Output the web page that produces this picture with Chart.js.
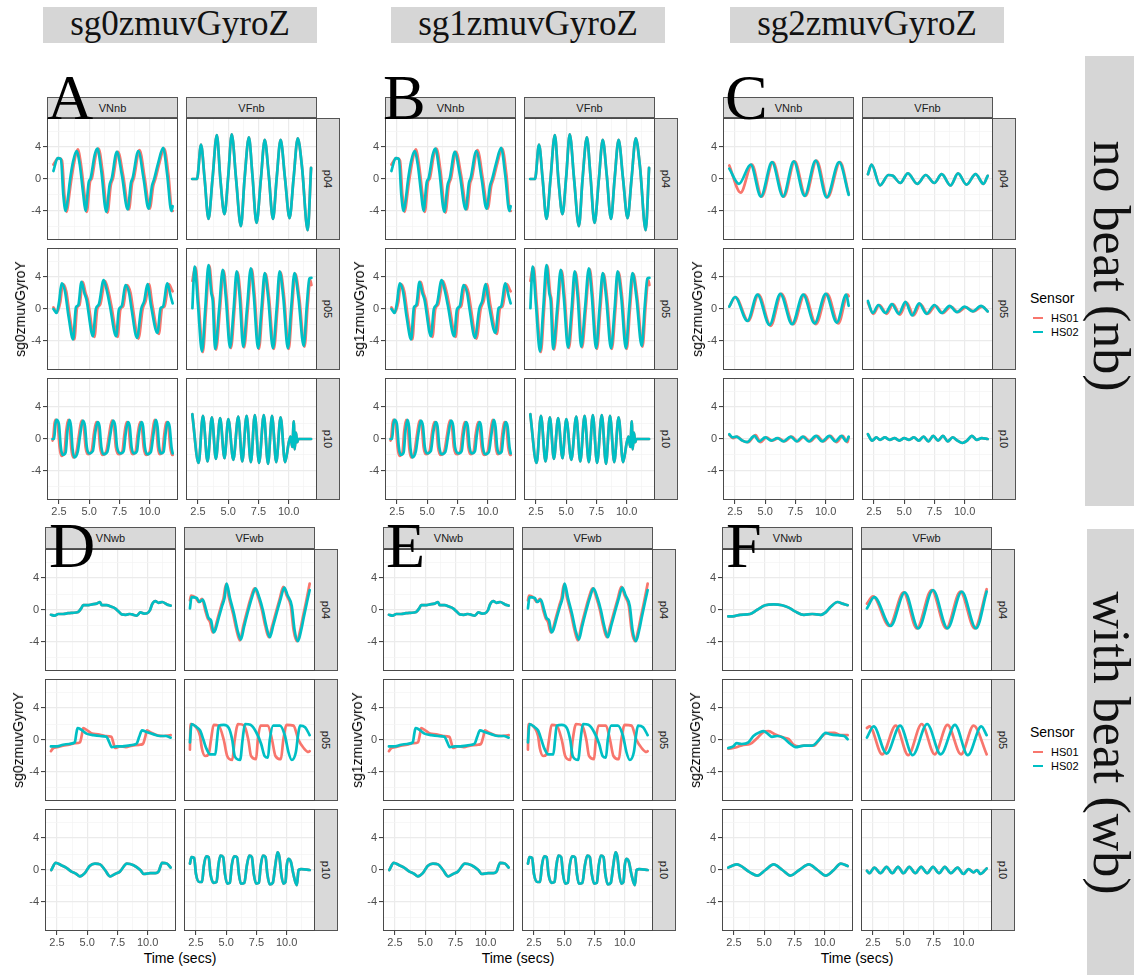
<!DOCTYPE html>
<html>
<head>
<meta charset="utf-8">
<script src="https://cdn.jsdelivr.net/npm/chart.js@4.4.1/dist/chart.umd.min.js"></script>
<style>
  body { margin: 0; background: #fff; }
  #fig { position: relative; width: 1134px; height: 975px; overflow: hidden; font-family: "Liberation Sans", Arial, sans-serif; }
  .strip { position: absolute; box-sizing: border-box; background: #d9d9d9; border: 1px solid #555; color: #1a1a1a; font-size: 11px; display: flex; align-items: center; justify-content: center; }
  .strip.side span { transform: rotate(90deg); white-space: nowrap; }
  .coltitle { position: absolute; background: #d6d6d6; font-family: "Liberation Serif", serif; font-size: 35px; line-height: 33px; text-align: center; color: #111; }
  .letter { position: absolute; font-family: "Liberation Serif", serif; font-size: 64px; line-height: 64px; color: #000; z-index: 5; }
  .rot { position: absolute; white-space: nowrap; transform: translate(-50%, -50%) rotate(-90deg); }
  .ytitle { font-size: 14px; color: #000; }
  .xtitle { position: absolute; font-size: 14px; transform: translate(-50%, -50%); white-space: nowrap; }
  .rowbox { position: absolute; background: #d6d6d6; }
  .rowlabel { position: absolute; white-space: nowrap; font-family: "Liberation Serif", serif; font-size: 52px; color: #111; transform: translate(-50%, -50%) rotate(90deg); }
  .legend { position: absolute; font-size: 11px; color: #000; }
  .legend .head { font-size: 14px; margin-bottom: 5px; }
  .legend .key { display: flex; align-items: center; height: 14px; }
  .legend .key i { display: inline-block; width: 10px; height: 2px; margin: 0 8px 0 3px; }
</style>
</head>
<body>
<div id="fig"></div>
<script>
// Gyro traces, pairs of [time (secs), value]
const sg0_VNnb_p04_HS01 = [[2.04,1.8],[2.45,2.6],[2.75,2.3],[2.95,-2.0],[3.15,-4.1],[3.35,-2.0],[3.5,-0.3],[3.77,2.2],[4.05,3.7],[4.32,1.8],[4.6,-1.8],[4.8,-4.1],[5.06,-0.4],[5.22,0.1],[5.55,3.0],[5.77,3.8],[6.1,1.0],[6.51,-4.2],[6.78,-0.8],[6.97,0.1],[7.38,3.4],[7.8,0.5],[8.28,-3.8],[8.55,-0.5],[8.69,0.1],[9.16,3.6],[9.6,0.0],[10.0,-3.7],[10.3,-0.8],[10.47,0.0],[10.8,2.0],[11.2,3.8],[11.55,0.5],[11.85,-4.0],[11.9,-4.0]];
const sg0_VNnb_p04_HS02 = [[2.04,1.0],[2.39,2.6],[2.66,2.5],[2.86,-2.0],[3.05,-4.0],[3.27,-2.0],[3.40,-0.3],[3.67,2.2],[3.95,3.5],[4.22,1.8],[4.5,-1.8],[4.69,-4.0],[4.96,-0.4],[5.12,0.1],[5.45,3.0],[5.67,3.8],[6.0,1.0],[6.41,-4.1],[6.68,-0.8],[6.87,0.1],[7.28,3.4],[7.7,0.5],[8.18,-3.8],[8.45,-0.5],[8.59,0.1],[9.06,3.5],[9.5,0.0],[9.9,-3.7],[10.2,-0.8],[10.37,0.0],[10.7,2.0],[11.11,3.9],[11.45,0.5],[11.79,-4.0],[11.9,-3.4]];
const sg0_VNnb_p05_HS01 = [[2.04,0.2],[2.35,-0.4],[2.6,0.8],[2.82,3.1],[3.1,2.2],[3.4,-1.0],[3.77,-3.8],[4.0,0.2],[4.2,0.5],[4.46,3.4],[4.7,2.0],[4.87,1.2],[5.43,-3.5],[5.67,0.0],[5.92,0.6],[6.31,3.5],[6.62,2.0],[6.82,0.5],[7.35,-3.5],[7.57,-0.1],[7.82,0.4],[8.11,3.0],[8.42,2.0],[8.62,0.0],[9.07,-3.7],[9.42,0.0],[9.67,1.0],[9.94,3.1],[10.22,0.5],[10.76,-3.1],[11.02,0.1],[11.22,0.3],[11.58,3.1],[11.8,2.5],[11.9,2.2]];
const sg0_VNnb_p05_HS02 = [[2.04,0.0],[2.3,-0.5],[2.5,0.8],[2.72,3.2],[3.0,2.2],[3.3,-1.0],[3.67,-3.8],[3.9,0.2],[4.1,0.5],[4.36,3.4],[4.6,2.0],[4.77,1.2],[5.31,-3.4],[5.55,0.0],[5.8,0.6],[6.19,3.6],[6.5,2.0],[6.7,0.5],[7.23,-3.4],[7.45,-0.1],[7.7,0.4],[7.99,3.0],[8.3,2.0],[8.5,0.0],[8.95,-3.6],[9.3,0.0],[9.55,1.0],[9.82,3.1],[10.1,0.5],[10.64,-3.0],[10.9,0.1],[11.1,0.3],[11.46,3.2],[11.75,1.5],[11.9,0.7]];
const sg0_VNnb_p10_HS01 = [[1.97,-0.2],[2.05,0.5],[2.12,1.8],[2.22,2.4],[2.4,1.8],[2.55,-1.0],[2.7,-2.1],[2.95,-1.7],[3.1,1.0],[3.26,2.4],[3.4,1.5],[3.52,-1.2],[3.68,-2.3],[3.95,-1.6],[4.15,0.5],[4.37,2.3],[4.55,1.6],[4.7,-1.0],[4.9,-1.9],[5.2,-1.5],[5.4,0.8],[5.59,2.1],[5.75,1.6],[5.9,-1.0],[6.09,-2.0],[6.4,-1.6],[6.65,0.6],[6.87,2.3],[7.05,1.6],[7.2,-1.0],[7.48,-1.9],[7.75,-1.5],[7.9,0.5],[8.09,2.1],[8.25,1.6],[8.4,-1.0],[8.59,-1.9],[8.85,-1.5],[9.0,0.5],[9.21,2.1],[9.35,1.6],[9.5,-1.0],[9.7,-2.0],[10.0,-1.6],[10.2,0.5],[10.4,2.4],[10.55,1.5],[10.68,-1.0],[10.82,-1.9],[11.05,-1.6],[11.2,0.5],[11.37,2.1],[11.55,1.5],[11.7,-1.0],[11.85,-2.0],[11.9,-2.0]];
const sg0_VNnb_p10_HS02 = [[1.97,0.0],[2.1,0.0],[2.2,1.8],[2.3,2.4],[2.5,1.8],[2.65,-1.0],[2.8,-2.0],[3.05,-1.7],[3.2,1.0],[3.36,2.4],[3.5,1.5],[3.62,-1.2],[3.78,-2.3],[4.05,-1.6],[4.25,0.5],[4.47,2.3],[4.65,1.6],[4.8,-1.0],[5.0,-1.8],[5.3,-1.5],[5.5,0.8],[5.69,2.1],[5.85,1.6],[6.0,-1.0],[6.19,-1.9],[6.5,-1.6],[6.75,0.6],[6.97,2.3],[7.15,1.6],[7.3,-1.0],[7.58,-1.8],[7.85,-1.5],[8.0,0.5],[8.19,2.1],[8.35,1.6],[8.5,-1.0],[8.69,-1.8],[8.95,-1.5],[9.1,0.5],[9.31,2.1],[9.45,1.6],[9.6,-1.0],[9.8,-1.9],[10.1,-1.6],[10.3,0.5],[10.5,2.4],[10.65,1.5],[10.78,-1.0],[10.92,-1.8],[11.15,-1.6],[11.3,0.5],[11.47,2.1],[11.65,1.5],[11.8,-1.0],[11.9,-1.8]];
const sg0_VFnb_p04_HS02 = [[2.02,0.0],[2.42,0.0],[2.75,4.3],[3.05,0.0],[3.37,-5.0],[3.7,0.0],[4.06,5.5],[4.35,0.0],[4.69,-4.4],[5.0,0.3],[5.29,5.6],[5.65,0.0],[6.05,-5.9],[6.35,0.0],[6.71,5.2],[7.0,0.5],[7.34,-5.5],[7.7,0.0],[8.02,4.9],[8.35,0.5],[8.7,-5.0],[9.0,0.0],[9.33,4.9],[9.7,0.0],[10.07,-4.9],[10.4,0.0],[10.75,5.1],[11.1,1.5],[11.57,-6.4],[11.85,1.4]];
const sg0_VFnb_p05_HS01 = [[2.04,3.5],[2.15,4.5],[2.3,5.2],[2.57,0.5],[2.9,-5.4],[3.17,0.0],[3.44,5.4],[3.67,2.0],[3.79,1.0],[3.99,-5.1],[4.32,0.0],[4.62,4.8],[4.87,1.5],[5.22,-4.9],[5.52,0.0],[5.77,4.6],[6.02,1.5],[6.31,-4.8],[6.62,0.0],[6.94,5.0],[7.17,2.0],[7.54,-5.0],[7.82,0.0],[8.09,4.4],[8.37,1.5],[8.77,-5.0],[9.07,0.0],[9.32,4.6],[9.62,1.5],[10.0,-5.0],[10.27,0.0],[10.55,4.4],[10.87,1.5],[11.31,-4.7],[11.57,0.5],[11.78,3.6],[11.88,3.0]];
const sg0_VFnb_p05_HS02 = [[2.04,0.1],[2.12,3.0],[2.23,5.3],[2.5,0.5],[2.83,-5.3],[3.1,0.0],[3.37,5.5],[3.6,2.0],[3.72,1.0],[3.92,-5.0],[4.25,0.0],[4.55,4.9],[4.8,1.5],[5.15,-4.8],[5.45,0.0],[5.7,4.7],[5.95,1.5],[6.24,-4.7],[6.55,0.0],[6.87,5.1],[7.1,2.0],[7.47,-4.9],[7.75,0.0],[8.02,4.5],[8.3,1.5],[8.7,-4.9],[9.0,0.0],[9.25,4.7],[9.55,1.5],[9.93,-4.9],[10.2,0.0],[10.48,4.5],[10.8,1.5],[11.24,-4.6],[11.5,0.5],[11.71,3.8],[11.88,3.9]];
const sg0_VFnb_p10_HS02 = [[2.03,3.1],[2.55,-3.0],[2.91,2.9],[3.29,-2.8],[3.65,2.7],[3.98,-2.5],[4.33,2.6],[4.69,-2.4],[5.01,2.5],[5.42,-2.6],[5.83,2.8],[6.16,-2.8],[6.52,2.9],[6.87,-2.9],[7.2,3.0],[7.55,-3.0],[7.94,3.0],[8.29,-3.1],[8.62,2.9],[8.97,-2.9],[9.33,2.7],[9.7,-2.9],[10.0,-0.5],[10.15,0.3],[10.3,-1.0],[10.42,2.2],[10.5,-1.3],[10.6,0.8],[10.7,-0.4],[10.8,0.0],[11.85,0.0]];

const sg2_VNnb_p04_HS01 = [[2.03,1.7],[2.97,-1.7],[3.9,1.8],[4.72,-2.2],[5.64,2.1],[6.55,-2.2],[7.44,2.2],[8.33,-2.1],[9.25,2.3],[10.16,-2.3],[11.19,2.1],[11.9,-1.8]];
const sg2_VNnb_p04_HS02 = [[2.03,1.3],[2.83,-0.6],[3.8,1.8],[4.64,-2.2],[5.56,2.1],[6.47,-2.2],[7.36,2.2],[8.25,-2.1],[9.17,2.3],[10.08,-2.3],[11.11,2.1],[11.9,-2.0]];
const sg2_VNnb_p05_HS01 = [[2.03,0.3],[2.55,1.5],[3.6,-1.5],[4.45,1.8],[5.45,-2.1],[6.35,1.9],[7.32,-1.9],[8.25,1.8],[9.2,-1.9],[10.12,1.9],[11.05,-1.8],[11.82,1.8],[11.9,1.6]];
const sg2_VNnb_p05_HS02 = [[2.03,0.3],[2.5,1.5],[3.53,-1.5],[4.36,1.8],[5.36,-2.0],[6.25,1.9],[7.22,-1.9],[8.14,1.8],[9.08,-1.8],[10.0,1.9],[10.92,-1.7],[11.7,1.8],[11.9,0.4]];
const sg2_VNnb_p10_HS01 = [[2.03,0.5],[2.35,0.1],[2.7,0.3],[3.1,-0.2],[3.6,-0.4],[4.2,0.5],[4.6,-0.4],[5.1,0.2],[5.6,-0.2],[6.1,0.1],[6.6,-0.3],[7.2,0.3],[7.7,-0.3],[8.2,0.3],[8.7,-0.3],[9.3,0.4],[9.8,-0.3],[10.4,0.4],[10.9,-0.4],[11.4,0.4],[11.8,-0.4],[11.9,0.2]];
const sg2_VNnb_p10_HS02 = [[2.03,0.6],[2.3,0.2],[2.6,0.3],[3.0,-0.1],[3.5,-0.4],[4.1,0.4],[4.5,-0.3],[5.0,0.2],[5.5,-0.2],[6.0,0.1],[6.5,-0.3],[7.1,0.3],[7.6,-0.3],[8.1,0.3],[8.6,-0.3],[9.2,0.4],[9.7,-0.3],[10.3,0.4],[10.8,-0.3],[11.3,0.4],[11.7,-0.3],[11.9,0.3]];
const sg2_VFnb_p04_HS02 = [[2.0,0.6],[2.3,1.8],[3.0,-0.8],[3.7,0.5],[4.06,0.4],[4.68,-0.5],[5.3,0.7],[6.08,-0.6],[6.78,0.5],[7.49,-0.5],[8.1,0.6],[8.83,-0.8],[9.45,0.7],[10.15,-0.7],[10.9,0.6],[11.55,-0.6],[11.9,0.4]];
const sg2_VFnb_p05_HS01 = [[2.0,0.8],[2.45,-0.6],[2.95,0.5],[3.55,-0.6],[4.08,0.6],[4.65,-0.7],[5.2,0.8],[5.78,-0.8],[6.33,0.6],[6.95,-0.6],[7.59,0.4],[8.2,-0.5],[8.85,0.3],[9.45,-0.4],[10.1,0.2],[10.75,-0.3],[11.45,0.3],[11.9,-0.3]];
const sg2_VFnb_p05_HS02 = [[2.0,1.0],[2.4,-0.5],[2.86,0.5],[3.45,-0.5],[3.98,0.6],[4.55,-0.6],[5.1,0.9],[5.65,-0.8],[6.23,0.7],[6.85,-0.6],[7.49,0.5],[8.1,-0.5],[8.75,0.4],[9.35,-0.4],[10.0,0.3],[10.65,-0.3],[11.35,0.4],[11.9,-0.3]];
const sg2_VFnb_p10_HS02 = [[2.0,0.6],[2.35,-0.2],[2.7,0.2],[3.0,-0.1],[3.4,0.2],[3.8,-0.1],[4.2,0.1],[4.6,-0.2],[5.0,0.1],[5.4,-0.1],[5.8,0.2],[6.2,-0.2],[6.6,0.3],[7.0,-0.3],[7.4,0.4],[7.8,-0.2],[8.2,0.4],[8.6,-0.3],[9.0,0.2],[9.4,-0.2],[9.8,-0.5],[10.2,-0.2],[10.6,0.4],[11.0,-0.1],[11.4,0.1],[11.9,0.0]];

const sg0_VNwb_p04_HS02 = [[2.0,-0.6],[2.3,-0.7],[2.6,-0.5],[3.0,-0.5],[3.4,-0.4],[3.8,-0.35],[4.25,-0.25],[4.5,0.2],[4.67,0.6],[5.0,0.6],[5.4,0.7],[5.78,0.8],[6.06,1.0],[6.2,0.6],[6.6,0.6],[7.0,0.4],[7.3,0.2],[7.6,-0.2],[7.86,-0.55],[8.2,-0.6],[8.5,-0.5],[8.7,-0.55],[9.1,-0.7],[9.4,-0.3],[9.7,-0.45],[9.95,-0.4],[10.2,0.0],[10.36,0.7],[10.64,1.1],[10.9,0.9],[11.2,1.0],[11.6,0.7],[11.9,0.55]];
const sg0_VNwb_p05_HS01 = [[2.0,-1.4],[2.2,-1.0],[2.5,-0.9],[3.0,-0.7],[3.5,-0.6],[4.0,-0.4],[4.4,-0.3],[4.55,0.6],[4.67,1.5],[5.0,1.2],[5.4,0.8],[5.9,0.7],[6.5,0.5],[7.0,0.4],[7.15,-0.3],[7.3,-1.0],[7.7,-0.8],[8.2,-0.9],[8.7,-0.7],[9.3,-0.6],[9.6,-0.5],[9.8,0.4],[9.94,1.2],[10.3,0.9],[10.8,0.6],[11.3,0.5],[11.9,0.6]];
const sg0_VNwb_p05_HS02 = [[2.0,-0.8],[2.5,-0.8],[3.0,-0.6],[3.5,-0.5],[3.97,-0.3],[4.1,0.8],[4.2,1.5],[4.5,1.3],[4.94,0.8],[5.5,0.6],[6.06,0.5],[6.6,0.4],[6.8,-0.2],[7.03,-0.9],[7.44,-0.8],[7.9,-0.8],[8.4,-0.7],[8.83,-0.6],[9.11,-0.4],[9.3,0.4],[9.53,1.2],[9.9,1.0],[10.5,0.7],[11.0,0.5],[11.5,0.5],[11.9,0.3]];
const sg0_VNwb_p10_HS02 = [[2.03,0.0],[2.4,0.9],[2.85,0.6],[3.25,0.3],[3.7,-0.2],[4.1,-0.5],[4.39,-0.8],[4.8,-0.4],[5.2,0.5],[5.64,0.8],[6.06,0.7],[6.47,0.0],[6.9,-0.8],[7.3,-0.5],[7.7,-0.2],[8.28,0.8],[8.83,0.6],[9.39,0.0],[9.67,-0.5],[10.2,-0.4],[10.64,-0.4],[10.9,-0.2],[11.19,0.9],[11.6,0.8],[11.9,0.3]];
const sg0_VFwb_p04_HS01 = [[2.0,1.2],[2.1,1.8],[2.5,1.5],[2.72,1.0],[3.0,1.4],[3.26,0.0],[3.46,-1.0],[3.66,-1.5],[3.88,-2.8],[4.02,-2.6],[4.3,-1.0],[4.58,0.5],[4.78,1.5],[4.98,3.2],[5.23,1.5],[5.57,-0.5],[5.85,-2.5],[6.13,-3.8],[6.41,-2.0],[6.75,0.0],[7.03,1.5],[7.34,2.7],[7.67,1.5],[7.95,0.0],[8.23,-2.0],[8.52,-3.4],[8.8,-2.0],[9.16,0.0],[9.44,1.5],[9.72,2.9],[10.0,1.8],[10.34,0.5],[10.57,-2.5],[10.85,-3.9],[11.12,-2.5],[11.32,-1.0],[11.6,1.0],[11.9,3.3]];
const sg0_VFwb_p04_HS02 = [[2.0,0.2],[2.13,1.6],[2.56,1.5],[2.78,1.0],[3.06,1.3],[3.34,0.0],[3.54,-1.0],[3.74,-1.3],[3.96,-2.8],[4.1,-2.5],[4.38,-1.0],[4.66,0.5],[4.86,1.5],[5.03,3.3],[5.31,1.5],[5.65,-0.5],[5.93,-2.5],[6.21,-3.7],[6.49,-2.0],[6.83,0.0],[7.11,1.5],[7.42,2.7],[7.75,1.5],[8.03,0.0],[8.31,-2.0],[8.6,-3.4],[8.88,-2.0],[9.24,0.0],[9.52,1.5],[9.8,2.8],[10.08,1.8],[10.42,0.5],[10.65,-2.5],[10.93,-3.9],[11.2,-2.5],[11.4,-1.0],[11.68,1.0],[11.9,2.5]];
const sg0_VFwb_p05_HS01 = [[2.0,-1.2],[2.05,2.0],[2.56,1.5],[2.84,0.5],[2.98,-1.0],[3.26,-2.0],[3.54,-1.8],[3.74,0.0],[3.96,1.9],[4.38,1.8],[4.8,0.0],[5.08,-2.0],[5.5,-2.5],[5.7,0.0],[5.98,2.0],[6.49,1.8],[6.83,0.0],[7.05,-2.0],[7.47,-2.4],[7.61,0.0],[7.84,1.8],[8.45,1.8],[8.79,0.0],[9.07,-2.0],[9.52,-2.4],[9.72,0.0],[10.0,1.9],[10.56,1.8],[10.98,0.0],[11.4,-1.0],[11.8,-1.5],[11.9,-1.4]];
const sg0_VFwb_p05_HS02 = [[2.0,-0.3],[2.13,2.0],[2.56,1.6],[2.84,1.2],[3.12,0.0],[3.34,-1.0],[3.68,-1.8],[4.1,-1.8],[4.24,0.0],[4.38,1.8],[4.8,1.9],[5.22,1.5],[5.5,0.0],[5.7,-2.0],[6.15,-2.5],[6.35,0.0],[6.55,2.0],[7.0,1.9],[7.47,1.0],[7.89,-0.5],[8.17,-2.0],[8.45,-2.2],[8.6,0.0],[8.88,1.8],[9.44,1.8],[9.86,0.5],[10.14,-1.5],[10.42,-2.5],[10.76,-1.5],[10.93,0.5],[11.1,1.8],[11.52,1.6],[11.9,0.6]];
const sg0_VFwb_p10_HS02 = [[2.0,0.8],[2.13,1.6],[2.35,1.5],[2.5,-0.5],[2.78,-1.5],[3.0,-1.5],[3.15,0.5],[3.34,1.7],[3.55,1.6],[3.7,-0.5],[3.96,-1.6],[4.2,-1.5],[4.35,0.5],[4.52,1.8],[4.75,1.6],[4.9,-0.5],[5.08,-1.7],[5.3,-1.6],[5.45,0.5],[5.65,1.7],[5.9,1.6],[6.05,-0.5],[6.21,-1.7],[6.5,-1.6],[6.7,0.5],[6.91,1.8],[7.12,1.6],[7.28,-0.5],[7.47,-1.7],[7.7,-1.6],[7.85,0.5],[8.03,1.8],[8.25,1.6],[8.4,-0.5],[8.6,-1.8],[8.85,-1.6],[9.05,0.5],[9.24,2.2],[9.4,1.6],[9.55,-0.5],[9.72,-1.7],[9.9,-1.5],[10.0,0.5],[10.14,1.4],[10.35,1.0],[10.55,-0.5],[10.84,-1.9],[10.98,0.0],[11.2,0.1],[11.9,0.0]];

const sg2_VNwb_p04_HS02 = [[2.03,-0.8],[2.4,-0.8],[3.0,-0.6],[3.83,-0.5],[4.39,0.0],[5.08,0.6],[5.78,0.7],[6.47,0.6],[7.03,0.3],[7.58,-0.2],[8.28,-0.6],[8.97,-0.5],[9.67,-0.6],[10.08,-0.3],[10.5,0.4],[11.06,1.0],[11.47,0.8],[11.9,0.6]];
const sg2_VNwb_p05_HS01 = [[2.03,-1.1],[2.72,-0.9],[3.28,-0.6],[3.83,-0.5],[4.39,0.2],[4.94,1.0],[5.36,1.1],[5.92,0.7],[6.61,0.3],[7.03,0.1],[7.44,-0.6],[7.86,-0.8],[8.28,-0.7],[9.11,-0.7],[9.53,0.0],[9.94,0.7],[10.36,0.9],[10.78,0.9],[11.33,0.6],[11.9,0.6]];
const sg2_VNwb_p05_HS02 = [[2.03,-1.0],[2.44,-0.8],[2.72,-0.4],[3.14,-0.5],[3.69,-0.3],[4.11,0.5],[4.67,1.0],[4.94,1.1],[5.28,0.8],[5.64,0.4],[6.06,0.5],[6.56,0.3],[7.17,-0.5],[7.58,-0.9],[8.28,-0.7],[8.97,-0.7],[9.53,0.0],[10.08,0.9],[10.5,0.7],[11.06,0.6],[11.61,0.5],[11.9,0.1]];
const sg2_VNwb_p10_HS02 = [[2.03,0.3],[2.72,0.7],[3.83,-0.3],[4.44,-0.7],[5.1,0.0],[5.78,0.7],[6.5,0.0],[7.17,-0.7],[7.9,0.0],[8.69,0.7],[9.4,0.0],[10.08,-0.7],[10.75,0.0],[11.33,0.8],[11.9,0.5]];
const sg2_VFwb_p04_HS01 = [[2.0,0.8],[2.5,1.7],[3.85,-2.0],[5.02,2.2],[6.13,-2.3],[7.34,2.5],[8.55,-2.3],[9.72,2.3],[10.9,-2.3],[11.9,2.6]];
const sg2_VFwb_p04_HS02 = [[2.0,0.2],[2.61,1.6],[3.96,-2.0],[5.13,2.2],[6.25,-2.3],[7.46,2.5],[8.66,-2.3],[9.84,2.3],[11.02,-2.3],[11.9,2.3]];
const sg2_VFwb_p05_HS01 = [[2.0,1.5],[2.22,1.7],[3.26,-1.8],[4.38,1.8],[5.41,-1.9],[6.53,2.0],[7.6,-1.8],[8.66,1.9],[9.78,-1.8],[10.82,1.8],[11.9,-1.8]];
const sg2_VFwb_p05_HS02 = [[2.0,0.3],[2.56,1.7],[3.62,-1.7],[4.74,1.8],[5.78,-1.9],[6.98,2.0],[8.1,-1.8],[9.28,1.9],[10.34,-1.9],[11.46,1.7],[11.9,0.6]];
const sg2_VFwb_p10_HS02 = [[2.0,-0.1],[2.22,-0.4],[2.61,0.3],[3.12,-0.4],[3.62,0.4],[4.1,-0.4],[4.57,0.4],[5.02,-0.4],[5.5,0.4],[6.0,-0.4],[6.48,0.4],[6.98,-0.4],[7.46,0.4],[7.96,-0.4],[8.44,0.4],[8.94,-0.4],[9.5,0.3],[9.98,-0.5],[10.4,0.1],[10.82,-0.3],[11.1,0.0],[11.38,-0.5],[11.9,0.2]];

// axes
const X_MIN = 1.51, X_MAX = 12.34, Y_MIN = -7.63, Y_MAX = 7.63;
const X_GRID = [2.5, 3.75, 5, 6.25, 7.5, 8.75, 10, 11.25];
const X_LABELED = [2.5, 5, 7.5, 10];
const Y_GRID = [-6, -4, -2, 0, 2, 4, 6];
const Y_LABELED = [-4, 0, 4];
const PARTICIPANTS = ['p04', 'p05', 'p10'];
const SENSORS = ['HS01', 'HS02'];
const SENSOR_COLORS = ['#F8766D', '#00BFC4'];

// [column][row] -> [HS01, HS02]; where the two sensors coincide the same trace is drawn for both
const sg0nb = [
  [[sg0_VNnb_p04_HS01, sg0_VNnb_p04_HS02], [sg0_VNnb_p05_HS01, sg0_VNnb_p05_HS02], [sg0_VNnb_p10_HS01, sg0_VNnb_p10_HS02]],
  [[sg0_VFnb_p04_HS02, sg0_VFnb_p04_HS02], [sg0_VFnb_p05_HS01, sg0_VFnb_p05_HS02], [sg0_VFnb_p10_HS02, sg0_VFnb_p10_HS02]]
];
const sg1nb = sg0nb; // sg1 smoothing gives the same curves as sg0 at this scale
const sg2nb = [
  [[sg2_VNnb_p04_HS01, sg2_VNnb_p04_HS02], [sg2_VNnb_p05_HS01, sg2_VNnb_p05_HS02], [sg2_VNnb_p10_HS01, sg2_VNnb_p10_HS02]],
  [[sg2_VFnb_p04_HS02, sg2_VFnb_p04_HS02], [sg2_VFnb_p05_HS01, sg2_VFnb_p05_HS02], [sg2_VFnb_p10_HS02, sg2_VFnb_p10_HS02]]
];
const sg0wb = [
  [[sg0_VNwb_p04_HS02, sg0_VNwb_p04_HS02], [sg0_VNwb_p05_HS01, sg0_VNwb_p05_HS02], [sg0_VNwb_p10_HS02, sg0_VNwb_p10_HS02]],
  [[sg0_VFwb_p04_HS01, sg0_VFwb_p04_HS02], [sg0_VFwb_p05_HS01, sg0_VFwb_p05_HS02], [sg0_VFwb_p10_HS02, sg0_VFwb_p10_HS02]]
];
const sg1wb = sg0wb;
const sg2wb = [
  [[sg2_VNwb_p04_HS02, sg2_VNwb_p04_HS02], [sg2_VNwb_p05_HS01, sg2_VNwb_p05_HS02], [sg2_VNwb_p10_HS02, sg2_VNwb_p10_HS02]],
  [[sg2_VFwb_p04_HS01, sg2_VFwb_p04_HS02], [sg2_VFwb_p05_HS01, sg2_VFwb_p05_HS02], [sg2_VFwb_p10_HS02, sg2_VFwb_p10_HS02]]
];

const PANELS = [
  { letter: 'A', smooth: 'sg0', beat: 0, col: 0, traces: sg0nb },
  { letter: 'B', smooth: 'sg1', beat: 0, col: 1, traces: sg1nb },
  { letter: 'C', smooth: 'sg2', beat: 0, col: 2, traces: sg2nb },
  { letter: 'D', smooth: 'sg0', beat: 1, col: 0, traces: sg0wb },
  { letter: 'E', smooth: 'sg1', beat: 1, col: 1, traces: sg1wb },
  { letter: 'F', smooth: 'sg2', beat: 1, col: 2, traces: sg2wb }
];
const BEAT_STRIPS = [['VNnb', 'VFnb'], ['VNwb', 'VFwb']];
const BEAT_LABELS = ['no beat (nb)', 'with beat (wb)'];

// layout
const PANEL_X = [[47, 385, 723], [45, 383, 722]];
const STRIP_TOP = [97, 527], STRIP_H = [21, 22];
const ROW_TOP = [[118, 248, 378], [549, 679, 809]];
const FW = 131, FH = 122, FSTEP = 139, SIDE_W = 23;
const LETTER_POS = [[47, 66], [383, 66], [725, 66], [49, 514], [386, 514], [726, 514]];
const TITLE_X = [43, 391, 730];
const YTITLE_X = [[20, 359, 697], [18, 357, 695]];

const fig = document.getElementById('fig');
Chart.defaults.font.family = '"Liberation Sans", Arial, sans-serif';

function el(cls, css, text) {
  const d = document.createElement('div');
  if (cls) d.className = cls;
  d.style.cssText = css;
  if (text !== undefined) d.textContent = text;
  fig.appendChild(d);
  return d;
}

const frame = {
  id: 'frame',
  afterDraw(chart) {
    const { ctx, chartArea: a } = chart;
    ctx.save();
    ctx.strokeStyle = '#4a4a4a';
    ctx.lineWidth = 1;
    ctx.strokeRect(Math.round(a.left) + 0.5, Math.round(a.top) + 0.5, Math.round(a.right - a.left) - 1, Math.round(a.bottom - a.top) - 1);
    ctx.restore();
  }
};

// the plot area has to fill its box exactly, so tick-label padding is dropped
function fixBox(size, key) {
  return s => {
    s[key] = size;
    s.paddingTop = s.paddingBottom = s.paddingLeft = s.paddingRight = 0;
  };
}

function facet(left, top, pair, showY, showX) {
  const padL = showY ? 30 : 0, padB = showX ? 18 : 0;
  const cv = document.createElement('canvas');
  cv.width = FW + padL; cv.height = FH + padB;
  cv.style.cssText = `position:absolute;left:${left - padL}px;top:${top}px;`;
  fig.appendChild(cv);
  const major = (vals) => (c) => c.tick && vals.includes(c.tick.value);
  const xMajor = major(X_LABELED), yMajor = major(Y_LABELED);
  new Chart(cv, {
    type: 'line',
    data: {
      // HS02 first so that it is painted over HS01
      datasets: [1, 0].map(i => ({
        label: SENSORS[i],
        data: pair[i].map(([x, y]) => ({ x, y })),
        borderColor: SENSOR_COLORS[i],
        borderWidth: 2.7,
        borderJoinStyle: 'round',
        borderCapStyle: 'round',
        cubicInterpolationMode: 'monotone',
        pointRadius: 0,
        fill: false
      }))
    },
    options: {
      responsive: false, animation: false, devicePixelRatio: 1, events: [],
      layout: { padding: 0, autoPadding: false },
      plugins: { legend: { display: false }, tooltip: { enabled: false } },
      scales: {
        x: {
          type: 'linear', min: X_MIN, max: X_MAX,
          afterBuildTicks: s => { s.ticks = X_GRID.map(v => ({ value: v })); },
          afterFit: fixBox(padB, 'height'),
          border: { display: false },
          grid: {
            color: c => xMajor(c) ? '#ebebeb' : '#f3f3f3',
            lineWidth: c => xMajor(c) ? 1.2 : 0.7,
            drawTicks: showX, tickLength: 4, tickWidth: 1,
            tickColor: c => xMajor(c) ? '#333' : 'rgba(0,0,0,0)'
          },
          ticks: {
            display: showX, autoSkip: false, maxRotation: 0, padding: 1,
            color: '#4d4d4d', font: { size: 11 },
            callback: v => X_LABELED.includes(v) ? v.toFixed(1) : ''
          }
        },
        y: {
          type: 'linear', min: Y_MIN, max: Y_MAX,
          afterBuildTicks: s => { s.ticks = Y_GRID.map(v => ({ value: v })); },
          afterFit: fixBox(padL, 'width'),
          border: { display: false },
          grid: {
            color: c => yMajor(c) ? '#ebebeb' : '#f3f3f3',
            lineWidth: c => yMajor(c) ? 1.2 : 0.7,
            drawTicks: showY, tickLength: 4, tickWidth: 1,
            tickColor: c => yMajor(c) ? '#333' : 'rgba(0,0,0,0)'
          },
          ticks: {
            display: showY, autoSkip: false, padding: 2,
            color: '#4d4d4d', font: { size: 11 },
            callback: v => Y_LABELED.includes(v) ? String(v) : ''
          }
        }
      }
    },
    plugins: [frame]
  });
}

PANELS.forEach((p, k) => {
  const x0 = PANEL_X[p.beat][p.col];
  // facet column strips
  BEAT_STRIPS[p.beat].forEach((name, c) => {
    el('strip', `left:${x0 + c * FSTEP}px;top:${STRIP_TOP[p.beat]}px;width:${FW}px;height:${STRIP_H[p.beat]}px;`, name);
  });
  // facet row strips
  PARTICIPANTS.forEach((pid, r) => {
    const s = el('strip side', `left:${x0 + FSTEP + FW - 1}px;top:${ROW_TOP[p.beat][r]}px;width:${SIDE_W + 1}px;height:${FH}px;`);
    const t = document.createElement('span'); t.textContent = pid; s.appendChild(t);
  });
  // plots
  for (let c = 0; c < 2; c++) {
    for (let r = 0; r < 3; r++) {
      facet(x0 + c * FSTEP, ROW_TOP[p.beat][r], p.traces[c][r], c === 0, r === 2);
    }
  }
  // y axis title
  const midY = (ROW_TOP[p.beat][0] + ROW_TOP[p.beat][2] + FH) / 2;
  el('rot ytitle', `left:${YTITLE_X[p.beat][p.col]}px;top:${midY}px;`, p.smooth + 'zmuvGyroY');
  // x axis title on the lower row of panels
  if (p.beat === 1) {
    el('xtitle', `left:${x0 + (FSTEP + FW) / 2}px;top:958px;`, 'Time (secs)');
  } else {
    el('coltitle', `left:${TITLE_X[p.col]}px;top:7px;width:274px;height:36px;`, p.smooth + 'zmuvGyroZ');
  }
  el('letter', `left:${LETTER_POS[k][0]}px;top:${LETTER_POS[k][1]}px;`, p.letter);
});

// legends
[290, 724].forEach(top => {
  const lg = el('legend', `left:1030px;top:${top}px;`);
  const h = document.createElement('div'); h.className = 'head'; h.textContent = 'Sensor'; lg.appendChild(h);
  SENSORS.forEach((s, i) => {
    const row = document.createElement('div'); row.className = 'key';
    row.innerHTML = `<i style="background:${SENSOR_COLORS[i]}"></i>${s}`;
    lg.appendChild(row);
  });
});

// condition labels on the right
el('rowbox', 'left:1085px;top:56px;width:49px;height:450px;');
el('rowbox', 'left:1087px;top:529px;width:47px;height:446px;');
el('rowlabel', 'left:1111px;top:266px;', BEAT_LABELS[0]);
el('rowlabel', 'left:1111px;top:743px;', BEAT_LABELS[1]);
</script>
</body>
</html>
